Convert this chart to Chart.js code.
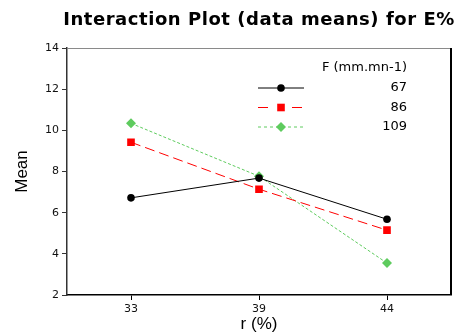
<!DOCTYPE html>
<html>
<head>
<meta charset="utf-8">
<script src="https://cdn.jsdelivr.net/npm/chart.js@4"></script>
<style>
  body { margin: 0; background: #fff; }
  #wrap { width: 470px; height: 336px; }
</style>
</head>
<body>
<div id="wrap"><canvas id="myChart" width="470" height="336"></canvas></div>
<script>
const rLevels = ["33", "39", "44"];
const fLevels = ["67", "86", "109"];
const mean67 = [6.72, 7.68, 5.68];
const mean86 = [9.42, 7.14, 5.15];
const mean109 = [10.34, 7.77, 3.55];
const yTicks = [2, 4, 6, 8, 10, 12, 14];

const tickFont = { family: "DejaVu Sans", size: 11 };

// title, frame and the legend block in the upper right
const sideLegend = {
  id: "sideLegend",
  afterDraw(chart) {
    const ctx = chart.ctx;
    const area = chart.chartArea;
    ctx.save();
    ctx.lineWidth = 1;
    ctx.strokeStyle = "#8a8a8a";
    ctx.beginPath();
    ctx.moveTo(area.left, area.top + 0.5);
    ctx.lineTo(area.right, area.top + 0.5);
    ctx.stroke();
    ctx.strokeStyle = "#000";
    ctx.lineWidth = 2;
    ctx.beginPath();
    ctx.moveTo(area.right, area.top);
    ctx.lineTo(area.right, area.bottom);
    ctx.stroke();

    ctx.fillStyle = "#000";
    ctx.font = "bold 18px 'DejaVu Sans'";
    ctx.letterSpacing = "0.55px";
    ctx.textAlign = "center";
    ctx.textBaseline = "middle";
    ctx.fillText("Interaction Plot (data means) for E%", (area.left + area.right) / 2, 20);
    ctx.letterSpacing = "0px";

    ctx.font = "13px 'DejaVu Sans'";
    ctx.textAlign = "right";
    ctx.fillText("F (mm.mn-1)", 407, 68);
    const legendDash = [[], [10, 24], [3, 3]];
    chart.data.datasets.forEach((ds, i) => {
      const y = 88 + i * 19.5;
      ctx.strokeStyle = ds.borderColor;
      ctx.lineWidth = 1;
      ctx.setLineDash(legendDash[i]);
      ctx.beginPath();
      ctx.moveTo(258, y);
      ctx.lineTo(304, y);
      ctx.stroke();
      ctx.setLineDash([]);
      ctx.fillStyle = ds.pointBackgroundColor;
      ctx.beginPath();
      if (ds.pointStyle === "circle") {
        ctx.arc(281, y, 3.8, 0, Math.PI * 2);
      } else if (ds.pointStyle === "rect") {
        ctx.rect(281 - 3.8, y - 3.8, 7.6, 7.6);
      } else {
        ctx.moveTo(281, y - 5);
        ctx.lineTo(286, y);
        ctx.lineTo(281, y + 5);
        ctx.lineTo(276, y);
        ctx.closePath();
      }
      ctx.fill();
      ctx.fillStyle = "#000";
      ctx.fillText(ds.label, 407, y);
    });
    ctx.restore();
  }
};

const ctx = document.getElementById("myChart").getContext("2d");
const myChart = new Chart(ctx, {
  type: "line",
  data: {
    labels: rLevels,
    datasets: [
      {
        label: fLevels[0],
        data: mean67,
        borderColor: "#000000",
        borderWidth: 1,
        pointStyle: "circle",
        pointRadius: 3.8,
        pointBackgroundColor: "#000000",
        pointBorderWidth: 0,
      },
      {
        label: fLevels[1],
        data: mean86,
        borderColor: "#ff0000",
        borderWidth: 1,
        borderDash: [10, 5],
        pointStyle: "rect",
        pointRadius: 5.4,
        pointBackgroundColor: "#ff0000",
        pointBorderWidth: 0,
      },
      {
        label: fLevels[2],
        data: mean109,
        borderColor: "#5ecb5e",
        borderWidth: 1,
        borderDash: [3, 2],
        pointStyle: "rectRot",
        pointRadius: 5,
        pointBackgroundColor: "#5ecb5e",
        pointBorderWidth: 0,
      },
    ],
  },
  options: {
    responsive: false,
    animation: false,
    layout: { padding: { top: 48, right: 19, left: 0, bottom: 0 } },
    plugins: {
      legend: { display: false },
      tooltip: { enabled: false },
    },
    scales: {
      x: {
        offset: true,
        grid: { display: true, drawOnChartArea: false, tickLength: 5, color: "#000", offset: false },
        border: { color: "#000", width: 1.5 },
        ticks: { font: tickFont, color: "#111", padding: 3, maxRotation: 0 },
        title: { display: true, text: "r (%)", font: { family: "Liberation Sans", size: 17 }, color: "#000", padding: { top: 0, bottom: 1 } },
        afterFit(scale) { scale.height = 41; },
      },
      y: {
        min: 2,
        max: 14,
        afterBuildTicks(scale) { scale.ticks = yTicks.map(v => ({ value: v })); },
        grid: { display: true, drawOnChartArea: false, tickLength: 5, color: "#333" },
        border: { color: "#333", width: 1.5 },
        ticks: { font: tickFont, color: "#111", padding: 3 },
        title: { display: true, text: "Mean", font: { family: "Liberation Sans", size: 17 }, color: "#000", padding: { top: 12, bottom: 0 } },
        afterFit(scale) { scale.width = 67; },
      },
    },
  },
  plugins: [sideLegend],
});
</script>
</body>
</html>
